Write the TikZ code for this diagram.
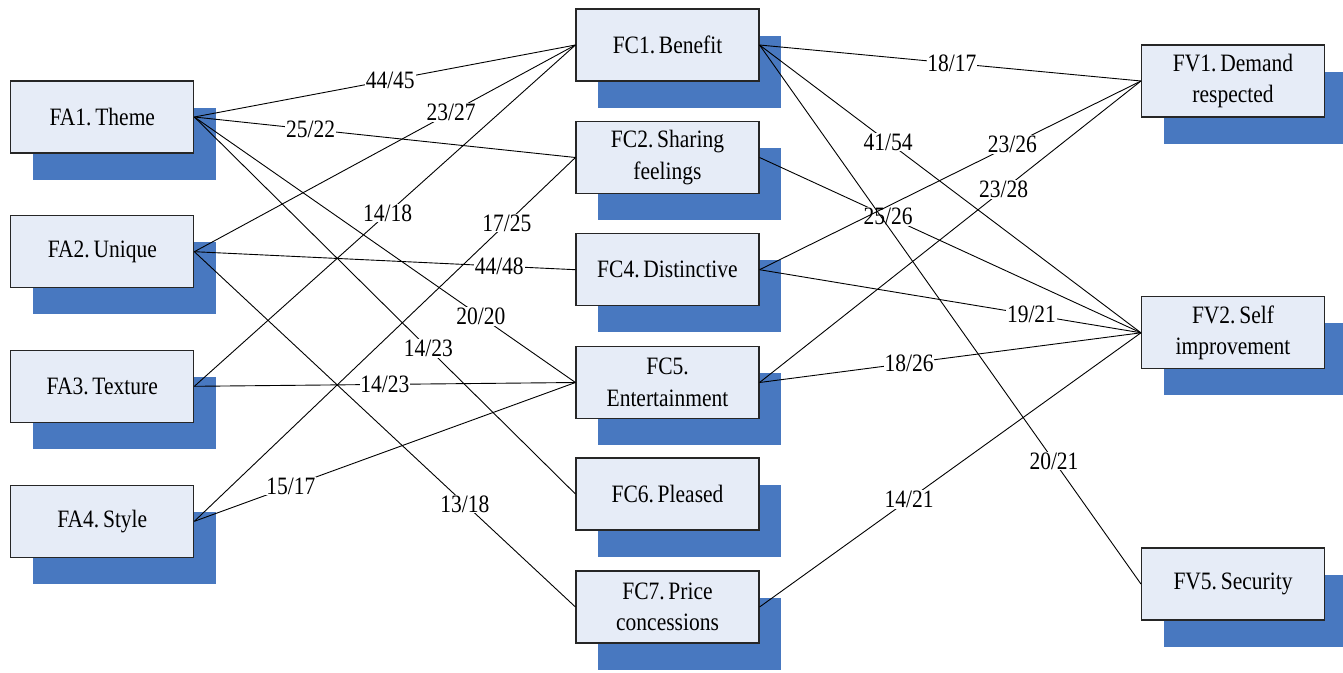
\documentclass[tikz,border=0pt]{standalone}
\usepackage{fontspec}
\setmainfont{Liberation Serif}[FakeStretch=0.86, WordSpace=0.7]
\usetikzlibrary{shadows}
\definecolor{boxfill}{RGB}{230,236,247}
\definecolor{shadeblue}{RGB}{72,120,192}
\newcommand\diafont{\fontsize{25}{31.5}\selectfont}
\frenchspacing
\begin{document}
\frenchspacing
\begin{tikzpicture}[x=1pt,y=-1pt,
  box/.style={draw=black!85, line width=1.1pt, fill=boxfill,
    minimum width=183pt, minimum height=72pt, inner sep=0pt,
    align=center, font=\diafont,
    general shadow={fill=shadeblue, shadow xshift=22pt, shadow yshift=-26.5pt}},
  conn/.style={draw=black, line width=0.9pt},
  lab/.style={fill=white, inner sep=0.8pt, font=\diafont}]
\useasboundingbox (0,0) rectangle (1343,672);

% left column
\node[box] (fa1) at (102.3,117) {FA1. Theme};
\node[box] (fa2) at (102.3,251.7) {FA2. Unique};
\node[box] (fa3) at (102.3,386.3) {FA3. Texture};
\node[box] (fa4) at (102.3,521.3) {FA4. Style};
% middle column
\node[box] (fc1) at (667.5,45) {FC1. Benefit};
\node[box] (fc2) at (667.5,157.5) {FC2. Sharing\\feelings};
\node[box] (fc4) at (667.5,269.7) {FC4. Distinctive};
\node[box] (fc5) at (667.5,382.5) {FC5.\\Entertainment};
\node[box] (fc6) at (667.5,494) {FC6. Pleased};
\node[box] (fc7) at (667.5,607) {FC7. Price\\concessions};
% right column
\node[box] (fv1) at (1233,81) {FV1. Demand\\respected};
\node[box] (fv2) at (1233,332.8) {FV2. Self\\improvement};
\node[box] (fv5) at (1233,584) {FV5. Security};

% left connectors
\draw[conn] (fa1.east) -- node[lab,pos=0.514]{44/45} (fc1.west);
\draw[conn] (fa1.east) -- node[lab,pos=0.305]{25/22} (fc2.west);
\draw[conn] (fa1.east) -- node[lab,pos=0.752]{20/20} (fc5.west);
\draw[conn] (fa1.east) -- node[lab,pos=0.614]{14/23} (fc6.west);
\draw[conn] (fa2.east) -- node[lab,pos=0.674]{23/27} (fc1.west);
\draw[conn] (fa2.east) -- node[lab,pos=0.80]{44/48} (fc4.west);
\draw[conn] (fa2.east) -- node[lab,pos=0.71]{13/18} (fc7.west);
\draw[conn] (fa3.east) -- node[lab,pos=0.507]{14/18} (fc1.west);
\draw[conn] (fa3.east) -- node[lab,pos=0.50]{14/23} (fc5.west);
\draw[conn] (fa4.east) -- node[lab,pos=0.82]{17/25} (fc2.west);
\draw[conn] (fa4.east) -- node[lab,pos=0.253]{15/17} (fc5.west);

% right connectors
\draw[conn] (fc2.east) -- node[lab,pos=0.337]{25/26} (fv2.west);
\draw[conn] (fc1.east) -- node[lab,pos=0.504]{18/17} (fv1.west);
\draw[conn] (fc1.east) -- node[lab,pos=0.337]{41/54} (fv2.west);
\draw[conn] (fc1.east) -- node[lab,pos=0.772]{20/21} (fv5.west);
\draw[conn] (fc4.east) -- node[lab,pos=0.663]{23/26} (fv1.west);
\draw[conn] (fc4.east) -- node[lab,pos=0.713]{19/21} (fv2.west);
\draw[conn] (fc5.east) -- node[lab,pos=0.64]{23/28} (fv1.west);
\draw[conn] (fc5.east) -- node[lab,pos=0.392]{18/26} (fv2.west);
\draw[conn] (fc7.east) -- node[lab,pos=0.392]{14/21} (fv2.west);
\end{tikzpicture}
\end{document}
